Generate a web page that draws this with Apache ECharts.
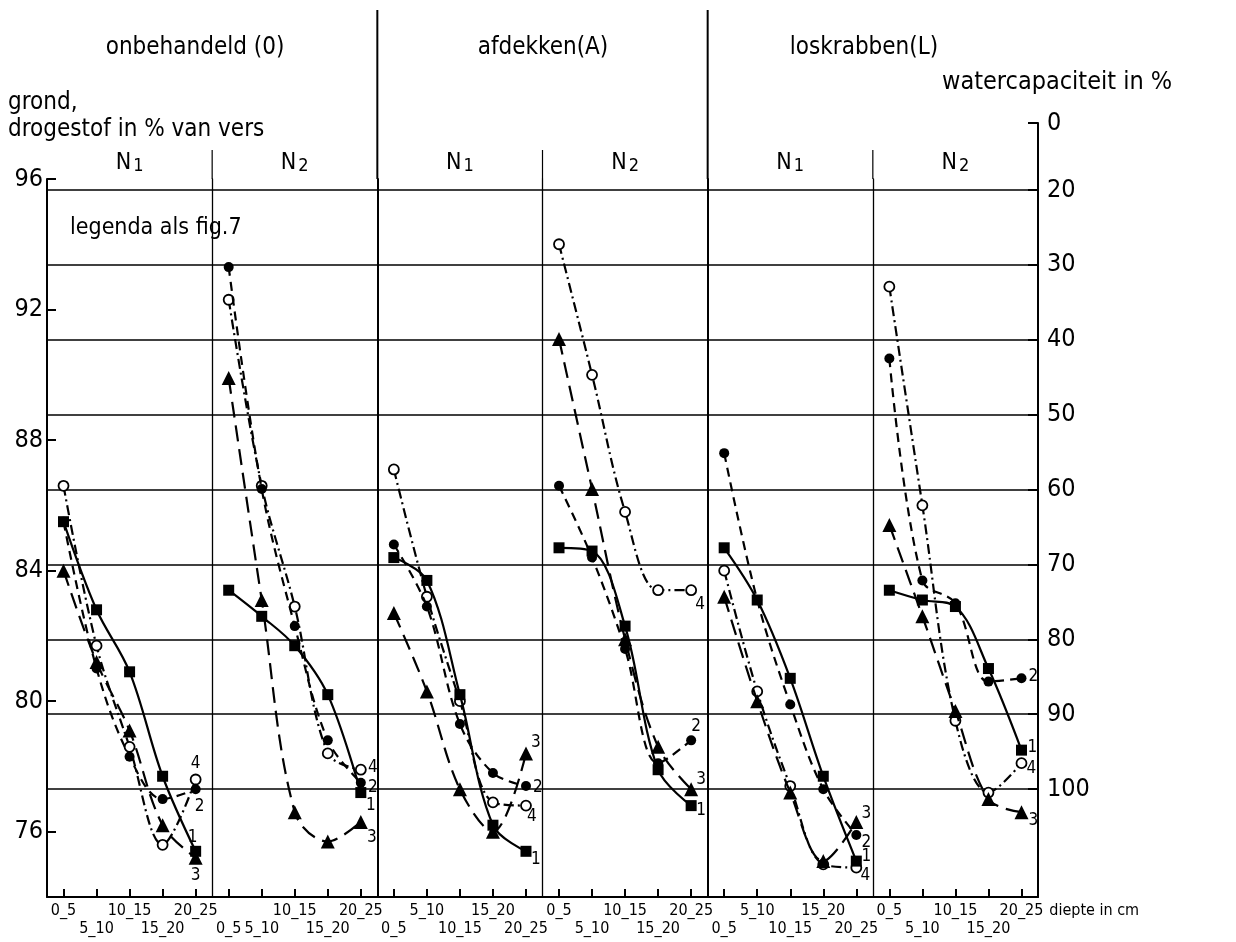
<!DOCTYPE html>
<html><head><meta charset="utf-8">
<script src="https://cdn.jsdelivr.net/npm/echarts@6/dist/echarts.min.js"></script>
<style>html,body{margin:0;padding:0;background:#fff}#c{width:1236px;height:942px}</style>
</head><body><div id="c"></div>
<script>
// ---------- data ----------
const depthLabels = ['0_5', '5_10', '10_15', '15_20', '20_25'];
const treatments = ['onbehandeld (0)', 'afdekken(A)', 'loskrabben(L)'];
const panelN = ['1', '2', '1', '2', '1', '2'];
const seriesNames = ['1', '2', '3', '4'];
const leftTicks = [76, 80, 84, 88, 92, 96];

// onbehandeld N1
const oN1_s1 = [85.5, 82.8, 80.9, 77.7, 75.4];
const oN1_s2 = [85.5, 81.0, 78.3, 77.0, 77.3];
const oN1_s3 = [84.0, 81.2, 79.1, 76.2, 75.2];
const oN1_s4 = [86.6, 81.7, 78.6, 75.6, 77.6];
// onbehandeld N2
const oN2_s1 = [83.4, 82.6, 81.7, 80.2, 77.2];
const oN2_s2 = [93.3, 86.5, 82.3, 78.8, 77.5];
const oN2_s3 = [89.9, 83.1, 76.6, 75.7, 76.3];
const oN2_s4 = [92.3, 86.6, 82.9, 78.4, 77.9];
// afdekken N1
const aN1_s1 = [84.4, 83.7, 80.2, 76.2, 75.4];
const aN1_s2 = [84.8, 82.9, 79.3, 77.8, 77.4];
const aN1_s3 = [82.7, 80.3, 77.3, 76.0, 78.4];
const aN1_s4 = [87.1, 83.2, 80.0, 76.9, 76.8];
// afdekken N2
const aN2_s1 = [84.7, 84.6, 82.3, 77.9, 76.8];
const aN2_s2 = [86.6, 84.4, 81.6, 78.1, 78.8];
const aN2_s3 = [91.1, 86.5, 81.9, 78.6, 77.3];
const aN2_s4 = [94.0, 90.0, 85.8, 83.4, 83.4];
// loskrabben N1
const lN1_s1 = [84.7, 83.1, 80.7, 77.7, 75.1];
const lN1_s2 = [87.6, 83.1, 79.9, 77.3, 75.9];
const lN1_s3 = [83.2, 80.0, 77.2, 75.1, 76.3];
const lN1_s4 = [84.0, 80.3, 77.4, 75.0, 74.9];
// loskrabben N2
const lN2_s1 = [83.4, 83.1, 82.9, 81.0, 78.5];
const lN2_s2 = [90.5, 83.7, 83.0, 80.6, 80.7];
const lN2_s3 = [85.4, 82.6, 79.7, 77.0, 76.6];
const lN2_s4 = [92.7, 86.0, 79.4, 77.2, 78.1];

const panels = [
  [oN1_s1, oN1_s2, oN1_s3, oN1_s4],
  [oN2_s1, oN2_s2, oN2_s3, oN2_s4],
  [aN1_s1, aN1_s2, aN1_s3, aN1_s4],
  [aN2_s1, aN2_s2, aN2_s3, aN2_s4],
  [lN1_s1, lN1_s2, lN1_s3, lN1_s4],
  [lN2_s1, lN2_s2, lN2_s3, lN2_s4]
];

// ---------- styling / layout ----------
const FONT = "'DejaVu Sans Condensed','Liberation Sans Narrow','DejaVu Sans',sans-serif";
const PL = 47, PR = 1038, PW = (PR - PL) / 6;
const Y96 = 179, YAX = 897, Y20 = 190, Y100 = 789, Y0 = 123;
// row of each x label (0 = upper row, 1 = lower row)
const labelRows = [
  [0, 1, 0, 1, 0], [1, 1, 0, 1, 0], [1, 0, 1, 0, 1],
  [0, 1, 0, 1, 0], [1, 0, 1, 0, 1], [0, 1, 0, 1, 0]
];
// end-label offsets per panel, per series
const labelOffsets = [
  [[-3, -14], [4, 17], [0, 18], [0, -16]],
  [[10, 13], [12, 5], [11, 16], [12, -2]],
  [[10, 8], [12, 2], [10, -11], [6, 11]],
  [[10, 5], [5, -14], [10, -10], [9, 14]],
  [[10, -5], [10, 8], [10, -8], [9, 8]],
  [[11, -3], [12, -2], [12, 8], [10, 5]]
];
const seriesStyle = [
  { symbol: 'rect', size: 11, fill: '#000', dash: 'solid', z: 5 },
  { symbol: 'circle', size: 10, fill: '#000', dash: [9, 6], z: 6 },
  { symbol: 'triangle', size: 14, fill: '#000', dash: [16, 8], z: 7 },
  { symbol: 'circle', size: 10, fill: '#fff', dash: [10, 4, 2, 4], z: 4 }
];

const grid = [], xAxis = [], yAxis = [], series = [], graphic = [];
for (let i = 0; i < 6; i++) {
  grid.push({ left: PL + i * PW, width: PW, top: Y96, height: YAX - Y96 });
  xAxis.push({
    type: 'category', gridIndex: i, data: depthLabels, boundaryGap: true,
    axisLine: { show: true, onZero: false, lineStyle: { color: '#000', width: 2 } },
    axisTick: { show: true, inside: true, alignWithLabel: true, length: 8, lineStyle: { color: '#000', width: 2 } },
    axisLabel: {
      interval: 0, fontFamily: FONT, fontSize: 16, color: '#000', margin: 5, lineHeight: 18,
      formatter: (v, idx) => labelRows[i][idx] ? '\n' + v : v
    },
    name: i === 5 ? 'diepte in cm' : '',
    nameLocation: 'end', nameGap: 8,
    nameTextStyle: { fontFamily: FONT, fontSize: 16, color: '#000', align: 'left', verticalAlign: 'top', padding: [6, 0, 0, 0] }
  });
  if (i === 0) {
    yAxis.push({
      type: 'value', gridIndex: 0, min: 74, max: 96,
      axisLine: { show: true, onZero: false, lineStyle: { color: '#000', width: 2 } },
      axisTick: { show: true, inside: true, length: 9, customValues: leftTicks, lineStyle: { color: '#000', width: 2 } },
      axisLabel: { customValues: leftTicks, fontFamily: FONT, fontSize: 25, color: '#000', margin: 4 },
      splitLine: { show: false }
    });
  } else {
    yAxis.push({
      type: 'value', gridIndex: i, min: 74, max: 96,
      axisLine: { show: true, onZero: false, lineStyle: { color: '#000', width: i % 2 === 0 ? 2 : 1.3 } },
      axisTick: { show: false }, axisLabel: { show: false }, splitLine: { show: false }
    });
  }
  panels[i].forEach((vals, s) => {
    const st = seriesStyle[s];
    series.push({
      type: 'line', name: seriesNames[s], xAxisIndex: i, yAxisIndex: i,
      data: vals.map((v, k) => k === vals.length - 1 ? {
        value: v,
        label: {
          show: true, formatter: seriesNames[s], position: 'inside', offset: labelOffsets[i][s],
          fontFamily: FONT, fontSize: 17, color: '#000'
        }
      } : v),
      symbol: st.symbol, symbolSize: st.size, showAllSymbol: true,
      smooth: 0.35,
      itemStyle: { color: st.fill, borderColor: '#000', borderWidth: st.fill === '#fff' ? 1.8 : 0, opacity: 1 },
      lineStyle: { color: '#000', width: 2.2, type: st.dash },
      z: st.z, animation: false, silent: true
    });
  });
}
// right axis: watercapaciteit (grid lines)
grid.push({ left: PL, width: PR - PL, top: Y20, height: Y100 - Y20 });
xAxis.push({ type: 'value', gridIndex: 6, show: false, min: 0, max: 1 });
yAxis.push({
  type: 'value', gridIndex: 6, position: 'right', min: 20, max: 100, interval: 10, inverse: true,
  axisLine: { show: false, onZero: false },
  axisTick: { show: true, inside: true, length: 10, lineStyle: { color: '#000', width: 2 } },
  axisLabel: { fontFamily: FONT, fontSize: 25, color: '#000', margin: 9 },
  splitLine: { show: true, lineStyle: { color: '#000', width: 1.6 } }
});
// right axis line
grid.push({ left: PL, width: PR - PL, top: Y0, height: YAX - Y0 });
xAxis.push({ type: 'value', gridIndex: 7, show: false, min: 0, max: 1 });
yAxis.push({
  type: 'value', gridIndex: 7, position: 'right', min: 0, max: 1,
  axisLine: { show: true, onZero: false, lineStyle: { color: '#000', width: 2 } },
  axisTick: { show: false }, axisLabel: { show: false }, splitLine: { show: false }
});
// compressed top segment 0..20
grid.push({ left: PL, width: PR - PL, top: Y0, height: Y20 - Y0 });
xAxis.push({ type: 'value', gridIndex: 8, show: false, min: 0, max: 1 });
yAxis.push({
  type: 'value', gridIndex: 8, position: 'right', min: 0, max: 20, interval: 20, inverse: true,
  axisLine: { show: false, onZero: false },
  axisTick: { show: true, inside: true, length: 10, lineStyle: { color: '#000', width: 2 } },
  axisLabel: { fontFamily: FONT, fontSize: 25, color: '#000', margin: 9, showMaxLabel: false },
  splitLine: { show: false }
});

// header separators
[2, 4].forEach(k => graphic.push({ type: 'line', shape: { x1: PL + k * PW, y1: 10, x2: PL + k * PW, y2: Y96 }, style: { stroke: '#000', lineWidth: 2 } }));
[1, 3, 5].forEach(k => graphic.push({ type: 'line', shape: { x1: PL + k * PW, y1: 150, x2: PL + k * PW, y2: Y96 }, style: { stroke: '#000', lineWidth: 1.2 } }));
// texts
treatments.forEach((t, k) => graphic.push({ type: 'text', x: [195, 543, 864][k], y: 48, style: { text: t, font: '24px ' + FONT, fill: '#000', align: 'center', verticalAlign: 'middle' } }));
panelN.forEach((n, i) => graphic.push({
  type: 'text', x: PL + (i + 0.5) * PW, y: 163,
  style: { text: '{a|N}{b|' + n + '}', rich: { a: { fontFamily: FONT, fontSize: 23, fill: '#000' }, b: { fontFamily: FONT, fontSize: 18, fill: '#000', padding: [6, 0, 0, 2] } }, align: 'center', verticalAlign: 'middle' }
}));
graphic.push({ type: 'text', x: 8, y: 103, style: { text: 'grond,', font: '24px ' + FONT, fill: '#000', verticalAlign: 'middle' } });
graphic.push({ type: 'text', x: 8, y: 130, style: { text: 'drogestof in % van vers', font: '24px ' + FONT, fill: '#000', verticalAlign: 'middle' } });
graphic.push({ type: 'text', x: 70, y: 228, style: { text: 'legenda als fig.7', font: '23px ' + FONT, fill: '#000', verticalAlign: 'middle' } });
graphic.push({ type: 'text', x: 942, y: 82, style: { text: 'watercapaciteit in %', font: '25px ' + FONT, fill: '#000', verticalAlign: 'middle' } });

const chart = echarts.init(document.getElementById('c'), null, { renderer: 'canvas' });
chart.setOption({ animation: false, backgroundColor: '#fff', grid, xAxis, yAxis, series, graphic });
</script></body></html>
